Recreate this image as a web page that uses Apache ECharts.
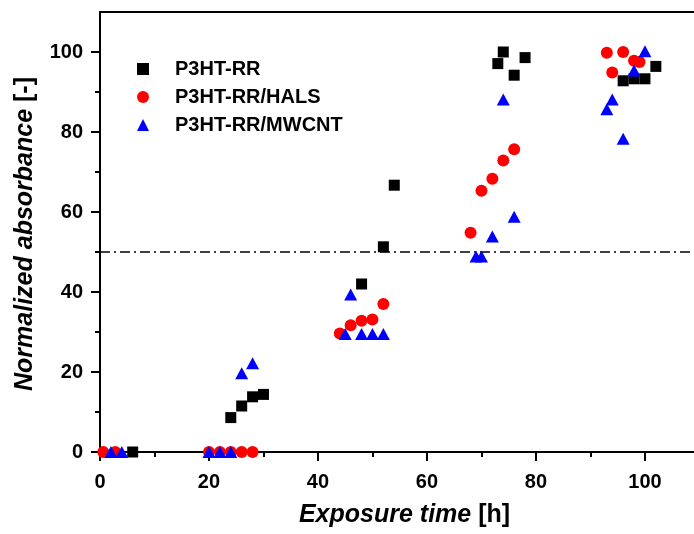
<!DOCTYPE html>
<html>
<head>
<meta charset="utf-8">
<script src="https://cdn.jsdelivr.net/npm/echarts@6/dist/echarts.min.js"></script>
<style>html,body{margin:0;padding:0;background:#fff;}#c{width:694px;height:534px;}</style>
</head>
<body>
<div id="c"></div>
<script>
// ---- data ----
const seriesNames = ['P3HT-RR', 'P3HT-RR/HALS', 'P3HT-RR/MWCNT'];
const rrX = [6, 24, 26, 28, 30, 48, 52, 54, 73, 74, 76, 78, 96, 98, 100, 102];
const rrY = [0, 8.6, 11.5, 13.8, 14.4, 42, 51.3, 66.7, 97.1, 100, 94.2, 98.6, 92.8, 93.3, 93.3, 96.4];
const halsX = [0.6, 2.8, 20, 22, 24, 26, 28, 44, 46, 48, 50, 52, 68, 70, 72, 74, 76, 93, 94, 96, 98, 99];
const halsY = [0, 0, 0, 0, 0, 0, 0, 29.6, 31.7, 32.8, 33.1, 37, 54.8, 65.3, 68.3, 72.9, 75.7, 99.8, 94.9, 100, 97.8, 97.5];
const mwX = [2, 4, 20, 22, 24, 26, 28, 45, 46, 48, 50, 52, 69, 70, 72, 74, 76, 93, 94, 96, 98, 100];
const mwY = [0, 0, 0, 0, 0, 19.7, 22.2, 29.5, 39.4, 29.5, 29.5, 29.5, 48.9, 48.9, 53.9, 88.1, 58.8, 85.7, 88.1, 78.3, 95.4, 100.2];
const xMajorTicks = [0, 20, 40, 60, 80, 100];
const xMinorTicks = [10, 30, 50, 70, 90];
const yMajorTicks = [0, 20, 40, 60, 80, 100];
const yMinorTicks = [10, 30, 50, 70, 90];
const thresholdY = 50;

const FONT = '"Liberation Sans", Arial, sans-serif';
function pairs(xs, ys) { return xs.map((x, i) => [x, ys[i]]); }

const chart = echarts.init(document.getElementById('c'), null, {renderer: 'canvas'});
const axisLine = {show: true, lineStyle: {color: '#000', width: 2}};
const labelStyle = {color: '#000', fontFamily: FONT, fontWeight: 'bold', fontSize: 20};
const nameRich = {
  i: {fontFamily: FONT, fontWeight: 'bold', fontStyle: 'italic', fontSize: 25, color: '#000'},
  n: {fontFamily: FONT, fontWeight: 'bold', fontSize: 25, color: '#000'}
};

chart.setOption({
  animation: false,
  backgroundColor: '#fff',
  grid: {left: 100, right: 0, top: 12, bottom: 78, containLabel: false},
  legend: {
    orient: 'vertical', left: 132, top: 54,
    itemWidth: 12, itemHeight: 12, itemGap: 8,
    textStyle: {color: '#000', fontFamily: FONT, fontWeight: 'bold', fontSize: 20, padding: [0, 0, 0, 21]},
    data: seriesNames
  },
  xAxis: [
    {
      type: 'value', position: 'bottom', min: 0, max: 109,
      axisLine: axisLine,
      axisTick: {show: true, inside: false, length: 9, lineStyle: {color: '#000', width: 2}, customValues: xMajorTicks},
      axisLabel: Object.assign({margin: 16, customValues: xMajorTicks}, labelStyle),
      splitLine: {show: false},
      name: '{i|Exposure time} {n|[h]}',
      nameLocation: 'middle', nameGap: 47,
      nameTextStyle: {fontFamily: FONT, fontWeight: 'bold', fontSize: 25, color: '#000', rich: nameRich, padding: [0, 0, 0, 15]}
    },
    {
      type: 'value', position: 'bottom', min: 0, max: 109,
      axisLine: {show: false},
      axisTick: {show: true, inside: false, length: 5, lineStyle: {color: '#000', width: 2}, customValues: xMinorTicks},
      axisLabel: {show: false},
      splitLine: {show: false}
    },
    {
      type: 'value', position: 'top', min: 0, max: 109,
      axisLine: axisLine,
      axisTick: {show: false}, axisLabel: {show: false}, splitLine: {show: false}
    }
  ],
  yAxis: [
    {
      type: 'value', position: 'left', min: -1, max: 110,
      axisLine: axisLine,
      axisTick: {show: true, inside: false, length: 9, lineStyle: {color: '#000', width: 2}, customValues: yMajorTicks},
      axisLabel: Object.assign({margin: 17, customValues: yMajorTicks}, labelStyle),
      splitLine: {show: false},
      name: '{i|Normalized absorbance} {n|[-]}',
      nameLocation: 'middle', nameGap: 62, nameRotate: 90,
      nameTextStyle: {fontFamily: FONT, fontWeight: 'bold', fontSize: 25, color: '#000', rich: nameRich}
    },
    {
      type: 'value', position: 'left', min: -1, max: 110,
      axisLine: {show: false},
      axisTick: {show: true, inside: false, length: 5, lineStyle: {color: '#000', width: 2}, customValues: yMinorTicks},
      axisLabel: {show: false},
      splitLine: {show: false}
    }
  ],
  series: [
    {
      name: seriesNames[0], type: 'scatter', symbol: 'rect', symbolSize: 11,
      itemStyle: {color: '#000', opacity: 1},
      data: pairs(rrX, rrY),
      markLine: {
        silent: true, symbol: ['none', 'none'], label: {show: false},
        lineStyle: {color: '#000', width: 1.6, type: [10, 4, 2, 4]},
        data: [{yAxis: thresholdY}]
      },
      z: 3
    },
    {
      name: seriesNames[1], type: 'scatter', symbol: 'circle', symbolSize: 12,
      itemStyle: {color: '#ff0000', opacity: 1},
      data: pairs(halsX, halsY), z: 4
    },
    {
      name: seriesNames[2], type: 'scatter', symbol: 'triangle', symbolSize: [13, 12],
      itemStyle: {color: '#0000ff', opacity: 1},
      data: pairs(mwX, mwY), z: 5
    }
  ]
});
</script>
</body>
</html>
